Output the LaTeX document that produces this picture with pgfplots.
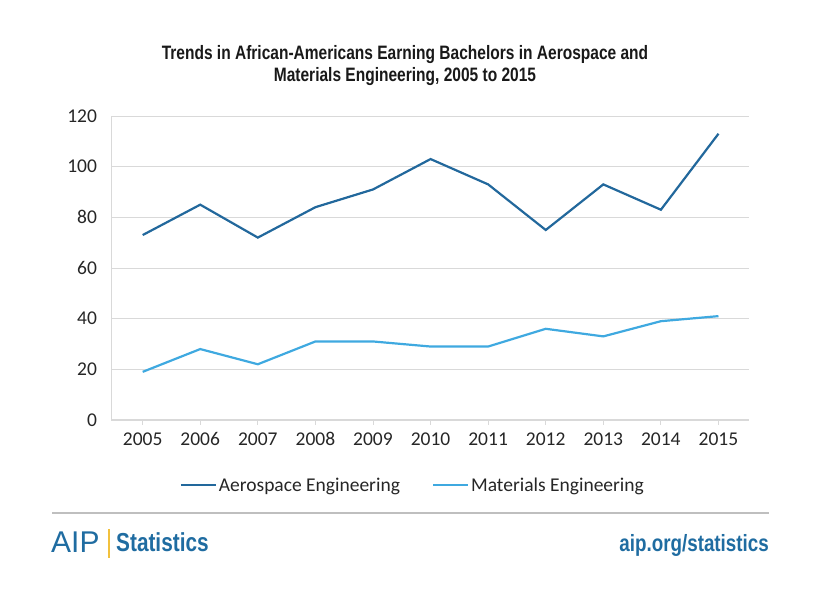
\documentclass[border=0pt]{standalone}
\usepackage{pgfplots}
\pgfplotsset{compat=1.18}
\usepackage{fontspec}
\setmainfont{Carlito}
\newfontfamily\condfont[FakeStretch=0.8]{Liberation Sans}
\newfontfamily\logofont{Liberation Sans}
\definecolor{aero}{HTML}{22689C}
\definecolor{mat}{HTML}{3FA9E0}
\definecolor{aipblue}{HTML}{1F6CA1}
\definecolor{gridgray}{HTML}{D9D9D9}
\definecolor{aipgold}{HTML}{F2C13D}
\begin{document}
\begin{tikzpicture}[x=1pt,y=1pt]
\useasboundingbox (0,0) rectangle (820,594);
\begin{axis}[
  at={(111pt,174pt)}, anchor=south west,
  scale only axis, width=638pt, height=304pt,
  xmin=2004.45, xmax=2015.53, ymin=0, ymax=120,
  axis x line=bottom, axis y line=left,
  axis line style={gridgray, line width=1pt, -},
  xtick={2005,...,2015},
  xticklabels={2005,2006,2007,2008,2009,2010,2011,2012,2013,2014,2015},
  ytick={0,20,...,120},
  ymajorgrids, grid style={gridgray, line width=0.8pt},
  major x tick style={gridgray, line width=0.8pt},
  xtick align=outside, major tick length=5pt,
  ytick style={draw=none},
  tick label style={font=\fontsize{19.5}{22}\selectfont, text=black!85},
  yticklabel style={xshift=-8pt},
  xticklabel style={yshift=-4pt},
  /pgf/number format/assume math mode=true,
  legend columns=2,
  legend style={draw=none, at={(0.473,-0.214)}, anchor=center,
    font=\fontsize{19.5}{22}\selectfont, text=black!85,
    /tikz/every even column/.append style={column sep=30pt}},
  legend cell align=left,
  legend image code/.code={\draw[#1] (0pt,0pt) -- (35pt,0pt);},
]
\addplot[aero, line width=2.2pt] coordinates {
(2005,73) (2006,85) (2007,72) (2008,84) (2009,91) (2010,103) (2011,93) (2012,75) (2013,93) (2014,83) (2015,113)};
\addlegendentry{Aerospace Engineering}
\addplot[mat, line width=2.2pt] coordinates {
(2005,19) (2006,28) (2007,22) (2008,31) (2009,31) (2010,29) (2011,29) (2012,36) (2013,33) (2014,39) (2015,41)};
\addlegendentry{Materials Engineering}
\end{axis}
% title
\node[font=\condfont\bfseries\fontsize{19.4}{22}\selectfont, text=black!90, align=center] at (405,594-66) {Trends in African-Americans Earning Bachelors in Aerospace and\\Materials Engineering, 2005 to 2015};
% footer
\draw[gray!50, line width=1.5pt] (52,594-513) -- (769,594-513);
\node[anchor=base west, font=\logofont\fontsize{30}{30}\selectfont, text=aipblue, inner sep=0pt] at (51,594-553) {AIP};
\draw[aipgold, line width=1.5pt] (109,594-529) -- (109,594-558);
\node[anchor=base west, font=\condfont\bfseries\fontsize{26}{28}\selectfont, text=aipblue, inner sep=0pt] at (116,594-552) {Statistics};
\node[anchor=base east, font=\condfont\bfseries\fontsize{23.5}{26}\selectfont, text=aipblue, inner sep=0pt] at (769,594-552) {aip.org/statistics};
\end{tikzpicture}
\end{document}
